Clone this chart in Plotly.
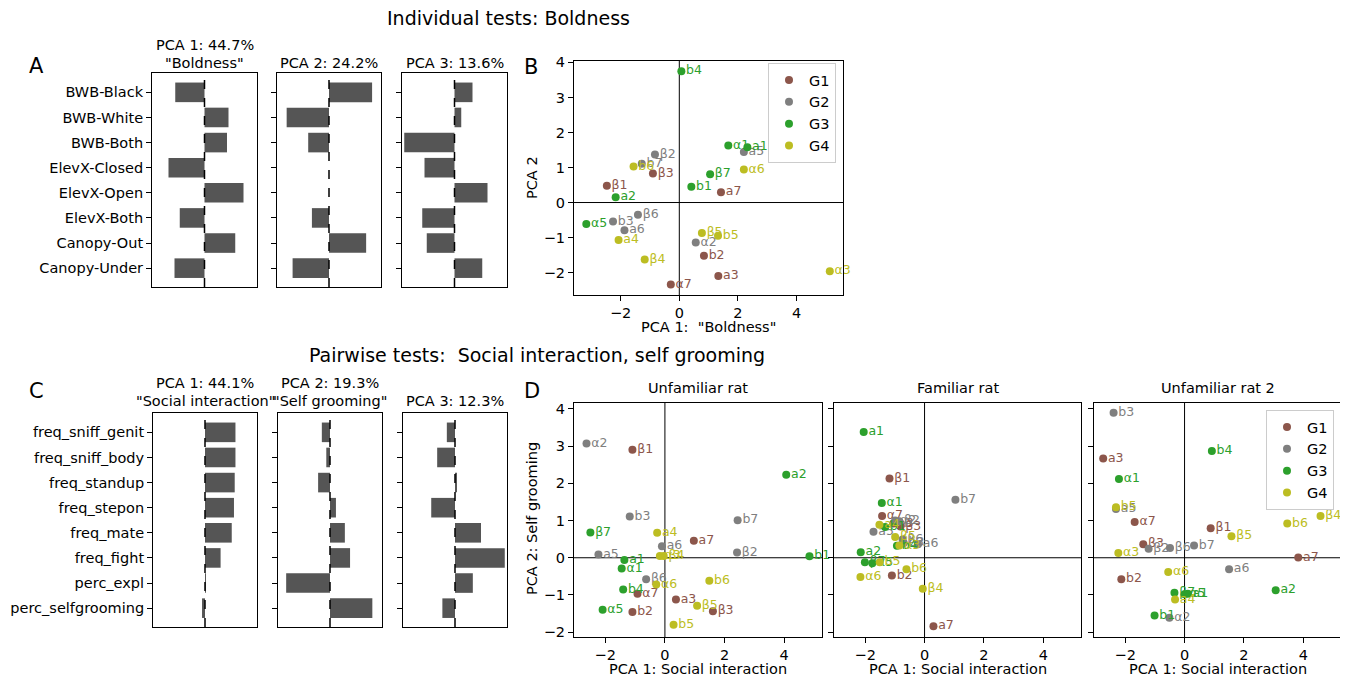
import plotly.graph_objects as go

# ---- loadings: individual tests (boldness) ----
bold_vars = ["BWB-Black", "BWB-White", "BWB-Both", "ElevX-Closed",
             "ElevX-Open", "ElevX-Both", "Canopy-Out", "Canopy-Under"]
bold_load1 = [-0.39, 0.32, 0.30, -0.48, 0.52, -0.33, 0.41, -0.40]
bold_load2 = [0.58, -0.57, -0.28, 0.0, 0.0, -0.23, 0.50, -0.49]
bold_load3 = [0.24, 0.09, -0.67, -0.40, 0.44, -0.43, -0.37, 0.37]

# ---- loadings: pairwise tests ----
soc_vars = ["freq_sniff_genit", "freq_sniff_body", "freq_standup", "freq_stepon",
            "freq_mate", "freq_fight", "perc_expl", "perc_selfgrooming"]
soc_load1 = [0.41, 0.41, 0.40, 0.39, 0.36, 0.21, 0.01, -0.04]
soc_load2 = [-0.11, -0.05, -0.16, 0.08, 0.20, 0.27, -0.59, 0.57]
soc_load3 = [-0.11, -0.24, 0.02, -0.32, 0.35, 0.67, 0.24, -0.17]

# ---- rats and their groups ----
rats = ["a1", "a2", "a3", "a4", "a5", "a6", "a7",
        "b1", "b2", "b3", "b4", "b5", "b6", "b7",
        "α1", "α2", "α3", "α5", "α6", "α7",
        "β1", "β2", "β3", "β4", "β5", "β6", "β7"]
rat_group = ["G3", "G3", "G1", "G4", "G2", "G2", "G1",
             "G3", "G1", "G2", "G3", "G4", "G4", "G2",
             "G3", "G2", "G4", "G3", "G4", "G1",
             "G1", "G2", "G1", "G4", "G4", "G2", "G3"]
group_names = ["G1", "G2", "G3", "G4"]
group_colors = ["#8c564b", "#7f7f7f", "#2ca02c", "#bcbd22"]

# scores, individual tests
bold_pc1 = [2.32, -2.17, 1.33, -2.07, 2.20, -1.87, 1.42,
            0.41, 0.84, -2.26, 0.07, 1.32, -1.56, -1.28,
            1.67, 0.56, 5.13, -3.17, 2.20, -0.29,
            -2.47, -0.83, -0.90, -1.18, 0.77, -1.41, 1.05]
bold_pc2 = [1.58, 0.15, -2.10, -1.07, 1.44, -0.79, 0.29,
            0.45, -1.52, -0.54, 3.75, -0.95, 1.03, 1.11,
            1.63, -1.14, -1.96, -0.61, 0.94, -2.34,
            0.48, 1.37, 0.83, -1.63, -0.87, -0.35, 0.81]

# scores, pairwise tests
unfam_pc1 = [-1.36, 4.07, 0.37, -0.26, -2.23, -0.10, 0.97,
             4.85, -1.09, -1.18, -1.40, 0.29, 1.49, 2.44,
             -1.45, -2.63, -0.17, -2.09, -0.29, -0.92,
             -1.09, 2.42, 1.61, -0.04, 1.08, -0.63, -2.50]
unfam_pc2 = [-0.06, 2.23, -1.12, 0.67, 0.09, 0.31, 0.46,
             0.04, -1.46, 1.11, -0.85, -1.80, -0.62, 1.01,
             -0.29, 3.07, 0.05, -1.40, -0.72, -0.97,
             2.90, 0.14, -1.44, 0.05, -1.29, -0.58, 0.68]

fam_pc1 = [-2.05, -2.15, -1.05, -1.52, -1.72, -0.22, 0.30,
           -1.33, -1.10, -0.70, -0.93, -1.51, -0.61, 1.04,
           -1.44, -0.99, -0.85, -1.76, -2.16, -1.43,
           -1.18, -0.85, -0.81, -0.06, -0.99, -0.74, -2.01]
fam_pc2 = [3.38, 0.15, 0.92, 0.89, 0.70, 0.36, -1.84,
           0.83, -0.48, 0.40, 0.32, -0.12, -0.31, 1.56,
           1.47, 1.00, 0.33, -0.15, -0.52, 1.12,
           2.13, 0.98, 0.84, -0.83, 0.56, 0.49, -0.12]

unfam2_pc1 = [0.11, 3.07, -2.74, -0.32, -2.31, 1.50, 3.83,
              -1.01, -2.13, -2.39, 0.92, -2.31, 3.46, 0.32,
              -2.21, -0.51, -2.23, 0.00, -0.55, -1.68,
              0.88, -1.21, -1.39, 4.58, 1.58, -0.49, -0.34]
unfam2_pc2 = [-0.97, -0.87, 2.67, -1.12, 1.31, -0.31, 0.01,
              -1.55, -0.58, 3.90, 2.87, 1.36, 0.92, 0.33,
              2.12, -1.61, 0.13, -0.98, -0.38, 0.96,
              0.79, 0.24, 0.36, 1.12, 0.58, 0.26, -0.94]

# the page body keeps its default 8px margin, so the figure is 8px smaller
# and all positions below are given in window pixels
OFF = 8
W, H = 1348 - OFF, 680 - OFF
FONT = "DejaVu Sans"
FS = 14.5


def px(x):
    return (x - OFF) / W


def py(y):
    return 1 - (y - OFF) / H


fig = go.Figure()
layout = dict(width=W, height=H, margin=dict(l=0, r=0, t=0, b=0, autoexpand=False),
              paper_bgcolor="white", plot_bgcolor="white",
              font=dict(family=FONT, size=FS, color="black"),
              showlegend=True)
shapes = []
annotations = []

frame = dict(showline=True, mirror=True, linecolor="black", linewidth=1,
             showgrid=False, zeroline=False, ticks="outside", ticklen=5,
             tickwidth=1, tickcolor="black", automargin=False,
             tickfont=dict(size=FS, family=FONT, color="black"))


def note(text, x, y, size=FS, **kw):
    annotations.append(dict(text=text, x=px(x), y=py(y), xref="paper", yref="paper",
                            xanchor="center", yanchor="middle",
                            showarrow=False, font=dict(size=size, family=FONT, color="black"),
                            **kw))


def bar_panel(n, values, cats, x0, x1, y0, y1, labels):
    sfx = "" if n == 1 else str(n)
    fig.add_trace(go.Bar(x=values, y=cats, orientation="h", width=0.78,
                         marker=dict(color="#555555", line=dict(width=0)),
                         xaxis="x" + sfx, yaxis="y" + sfx, showlegend=False))
    layout["xaxis" + sfx] = dict(frame, domain=[px(x0), px(x1)], anchor="y" + sfx,
                                 range=[-0.7, 0.7], showticklabels=False, ticks="")
    layout["yaxis" + sfx] = dict(frame, domain=[py(y1), py(y0)], anchor="x" + sfx,
                                 type="category", categoryarray=cats,
                                 range=[7.75, -0.77], showticklabels=labels,
                                 ticklabelstandoff=0)
    shapes.append(dict(type="line", xref="x" + sfx, yref="y" + sfx + " domain",
                       x0=0, x1=0, y0=0, y1=1, layer="above",
                       line=dict(color="black", width=1.5, dash="dash")))


def scatter_panel(n, xs, ys, x0, x1, y0, y1, xr, yr, ylabels, legend=None):
    sfx = str(n)
    for g, col in zip(group_names, group_colors):
        idx = [i for i, r in enumerate(rat_group) if r == g]
        gx = [xs[i] for i in idx]
        gy = [ys[i] for i in idx]
        gt = [rats[i] for i in idx]
        fig.add_trace(go.Scatter(x=gx, y=gy, mode="markers", name=g,
                                 marker=dict(color=col, size=8),
                                 xaxis="x" + sfx, yaxis="y" + sfx, cliponaxis=False,
                                 showlegend=legend is not None,
                                 legend=legend or "legend"))
        fig.add_trace(go.Scatter(x=gx, y=gy, mode="markers+text", text=gt,
                                 textposition="middle right",
                                 textfont=dict(color=col, size=12.5, family=FONT),
                                 marker=dict(color="rgba(0,0,0,0)", size=6),
                                 xaxis="x" + sfx, yaxis="y" + sfx, cliponaxis=False,
                                 showlegend=False, hoverinfo="skip"))
    layout["xaxis" + sfx] = dict(frame, domain=[px(x0), px(x1)], anchor="y" + sfx,
                                 range=xr, dtick=2, tick0=0)
    layout["yaxis" + sfx] = dict(frame, domain=[py(y1), py(y0)], anchor="x" + sfx,
                                 range=yr, dtick=1, tick0=0, showticklabels=ylabels,
                                 ticklabelstandoff=0)
    shapes.append(dict(type="line", xref="x" + sfx, yref="y" + sfx + " domain",
                       x0=0, x1=0, y0=0, y1=1, layer="below",
                       line=dict(color="black", width=1)))
    shapes.append(dict(type="line", xref="x" + sfx + " domain", yref="y" + sfx,
                       x0=0, x1=1, y0=0, y1=0, layer="below",
                       line=dict(color="black", width=1)))


# ---- A: boldness loadings ----
bar_panel(1, bold_load1, bold_vars, 152, 257, 73, 287, True)
bar_panel(2, bold_load2, bold_vars, 277, 381, 73, 287, False)
bar_panel(3, bold_load3, bold_vars, 402, 507, 73, 287, False)

# ---- B: boldness scores ----
scatter_panel(4, bold_pc1, bold_pc2, 574, 843, 61, 295, [-3.59, 5.58], [-2.64, 4.04],
              True, legend="legend")

# ---- C: social loadings ----
bar_panel(5, soc_load1, soc_vars, 153, 257, 413, 627, True)
bar_panel(6, soc_load2, soc_vars, 278, 382, 413, 627, False)
bar_panel(7, soc_load3, soc_vars, 403, 507, 413, 627, False)

# ---- D: social scores ----
XR = [-3.05, 5.27]
YR = [-2.13, 4.16]
scatter_panel(8, unfam_pc1, unfam_pc2, 574, 822, 403, 637, XR, YR, True)
scatter_panel(9, fam_pc1, fam_pc2, 834, 1081, 403, 637, XR, YR, False)
scatter_panel(10, unfam2_pc1, unfam2_pc2, 1094, 1341, 403, 637, XR, YR, False,
              legend="legend2")

leg = dict(xanchor="right", yanchor="top", bgcolor="rgba(255,255,255,0.85)",
           bordercolor="#cccccc", borderwidth=1, font=dict(size=FS, family=FONT),
           itemwidth=30)
layout["legend"] = dict(leg, x=px(836), y=py(63))
layout["legend2"] = dict(leg, x=px(1334), y=py(410))

# ---- texts ----
note("Individual tests: Boldness", 508, 18, size=19)
note("Pairwise tests:\u00a0 Social interaction, self grooming", 537, 355, size=19)

note("PCA 1: 44.7%", 204.5, 45)
note("\"Boldness\"", 204.5, 63)
note("PCA 2: 24.2%", 329, 63)
note("PCA 3: 13.6%", 454.5, 63)

note("PCA 1: 44.1%", 205, 383)
note("\"Social interaction\"", 205, 401)
note("PCA 2: 19.3%", 330, 383)
note("\"Self grooming\"", 330, 401)
note("PCA 3: 12.3%", 455, 401)

note("Unfamiliar rat", 698, 388)
note("Familiar rat", 957.5, 388)
note("Unfamiliar rat 2", 1217.5, 388)

note("A", 36, 66, size=21)
note("B", 531, 67, size=21)
note("C", 36, 391, size=21)
note("D", 532, 391, size=21)

note("PCA 1:\u00a0 \"Boldness\"", 708.5, 327)
note("PCA 2", 532, 178, textangle=-90)
note("PCA 2: Self grooming", 532, 519, textangle=-90)
for cx in (698, 957.5, 1217.5):
    note("PCA 1: Social interaction", cx, 669)

layout["shapes"] = shapes
layout["annotations"] = annotations
fig.update_layout(**layout)

fig.write_html("out.html")
